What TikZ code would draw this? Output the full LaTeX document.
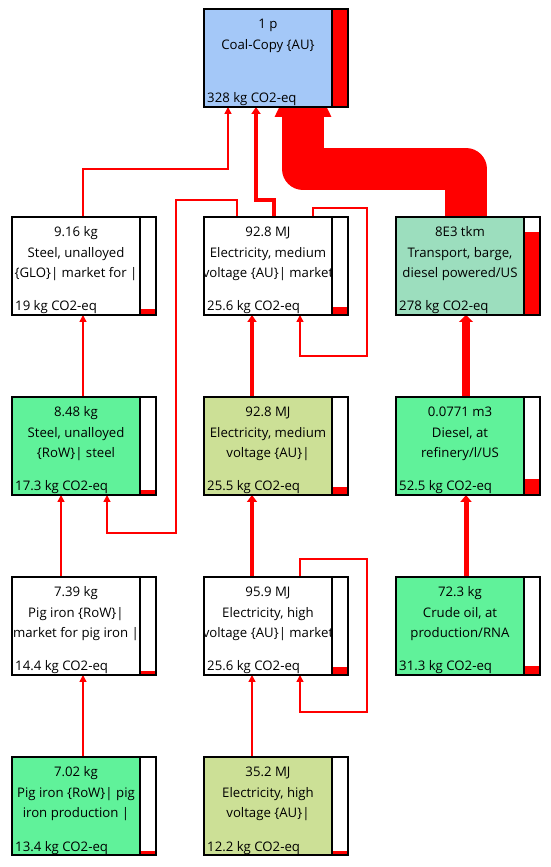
\documentclass[tikz,border=0pt]{standalone}
\usepackage{fontspec}
\setmainfont{Open Sans}
\usetikzlibrary{arrows.meta,positioning,calc,backgrounds}
\definecolor{coalblue}{RGB}{164,200,248}
\definecolor{bargeteal}{RGB}{156,222,190}
\definecolor{mintgreen}{RGB}{96,242,154}
\definecolor{olivegreen}{RGB}{204,224,150}
\tikzset{
    procbox/.style={rectangle, draw, line width=1.6pt, minimum width=144pt, minimum height=98pt, inner sep=0pt, outer sep=0pt},
    bodytext/.style={anchor=north, inner sep=0pt, align=center, font=\fontsize{13.2}{20.4}\selectfont},
    foottext/.style={anchor=base west, inner sep=0pt, font=\fontsize{13.2}{15}\selectfont},
    flow/.style={draw=red, line width=1.5pt, -{Triangle[width=7pt,length=7pt]}},
    mvflow/.style={draw=red, line width=3.5pt, -{Triangle[width=9pt,length=7pt]}},
    hvflow/.style={draw=red, line width=4pt, -{Triangle[width=10pt,length=7pt]}},
    crudeflow/.style={draw=red, line width=5pt, -{Triangle[width=11pt,length=7pt]}},
    dieselflow/.style={draw=red, line width=8pt, -{Triangle[width=14pt,length=7pt]}},
    bigflow/.style={draw=red, line width=42pt, line join=round, -{Triangle[width=52pt,length=60pt]}, shorten >=-50pt},
}
% name, placement, fill, body, footer, bar height
\newcommand{\procnode}[6]{%
    \node[procbox, fill=#3, #2] (#1) {};
    \fill[white] ([xshift=-16pt]#1.north east) rectangle (#1.south east);
    \fill[red] ([xshift=-16pt]#1.south east) rectangle ([yshift=#6pt]#1.south east);
    \draw[line width=2pt] ([xshift=-16pt]#1.north east) rectangle (#1.south east);
    \begin{scope}
        \clip (#1.north west) rectangle ([xshift=-16pt]#1.south east);
        \node[bodytext] at ([xshift=-8pt,yshift=-8.5pt]#1.north) {\rule{0pt}{11pt}#4};
        \node[foottext] at ([xshift=3pt,yshift=4pt]#1.south west) {#5};
    \end{scope}
}

\begin{document}
\begin{tikzpicture}[x=1pt, y=1pt]
    \useasboundingbox (0,0) rectangle (550,867);

    \procnode{coal}{at={(276,809)}}{coalblue}{1 p\\Coal-Copy \{AU\}}{328 kg CO2-eq}{98}
    \procnode{elecmv}{below=110pt of coal}{white}{92.8 MJ\\Electricity, medium\\voltage \{AU\}| market}{25.6 kg CO2-eq}{7.6}
    \procnode{steelglo}{left=48pt of elecmv}{white}{9.16 kg\\Steel, unalloyed\\\{GLO\}| market for |}{19 kg CO2-eq}{5.7}
    \procnode{transport}{right=48pt of elecmv}{bargeteal}{8E3 tkm\\Transport, barge,\\diesel powered/US}{278 kg CO2-eq}{83}

    \procnode{steelrow}{below=82pt of steelglo}{mintgreen}{8.48 kg\\Steel, unalloyed\\\{RoW\}| steel}{17.3 kg CO2-eq}{5.2}
    \procnode{elecmvau}{below=82pt of elecmv}{olivegreen}{92.8 MJ\\Electricity, medium\\voltage \{AU\}|}{25.5 kg CO2-eq}{7.6}
    \procnode{diesel}{below=82pt of transport}{mintgreen}{0.0771 m3\\Diesel, at\\refinery/l/US}{52.5 kg CO2-eq}{15.7}

    \procnode{pigmarket}{below=82pt of steelrow}{white}{7.39 kg\\Pig iron \{RoW\}|\\market for pig iron |}{14.4 kg CO2-eq}{4.3}
    \procnode{elechv}{below=82pt of elecmvau}{white}{95.9 MJ\\Electricity, high\\voltage \{AU\}| market}{25.6 kg CO2-eq}{7.6}
    \procnode{crude}{below=82pt of diesel}{mintgreen}{72.3 kg\\Crude oil, at\\production/RNA}{31.3 kg CO2-eq}{9.4}

    \procnode{pigprod}{below=82pt of pigmarket}{mintgreen}{7.02 kg\\Pig iron \{RoW\}| pig\\iron production |}{13.4 kg CO2-eq}{4}
    \procnode{elechvau}{below=82pt of elechv}{olivegreen}{35.2 MJ\\Electricity, high\\voltage \{AU\}|}{12.2 kg CO2-eq}{3.6}

    \begin{scope}[on background layer]
        \fill[white] (0,0) rectangle (550,867);
        % flows into the top process
        \draw[flow] ([xshift=-1pt]steelglo.north) |- ([xshift=-48pt,yshift=-62pt]coal.south) -- ([xshift=-48pt]coal.south);
        \draw[mvflow] ([xshift=-2pt]elecmv.north) -- ++(0,17pt) -| ([xshift=-20pt]coal.south);
        \draw[bigflow] ([xshift=-2pt]transport.north) |- ([xshift=27pt,yshift=-62pt]coal.south) -- ([xshift=27pt]coal.south);
        % second level
        \draw[flow] ([xshift=-1pt]steelrow.north) -- ([xshift=-1pt]steelglo.south);
        \draw[flow] ([xshift=-39pt]elecmv.north) -- ++(0,17pt) -| ([xshift=92pt,yshift=-38pt]steelrow.south) -| ([xshift=23pt]steelrow.south);
        \draw[flow] ([xshift=37pt]elecmv.north) -- ++(0,9pt) -| ([xshift=91pt,yshift=-41pt]elecmv.south) -| ([xshift=24pt]elecmv.south);
        \draw[mvflow] ([xshift=-24pt]elecmvau.north) -- ([xshift=-24pt]elecmv.south);
        \draw[dieselflow] ([xshift=-2pt]diesel.north) -- ([xshift=-2pt]transport.south);
        % third level
        \draw[flow] ([xshift=-23pt]pigmarket.north) -- ([xshift=-23pt]steelrow.south);
        \draw[hvflow] ([xshift=-24pt]elechv.north) -- ([xshift=-24pt]elecmvau.south);
        \draw[flow] ([xshift=24pt]elechv.north) -- ++(0,18pt) -| ([xshift=91pt,yshift=-37pt]elechv.south) -| ([xshift=24pt]elechv.south);
        \draw[crudeflow] ([xshift=-2pt]crude.north) -- ([xshift=-2pt]diesel.south);
        % bottom level
        \draw[flow] ([xshift=-1pt]pigprod.north) -- ([xshift=-1pt]pigmarket.south);
        \draw[flow] ([xshift=-24pt]elechvau.north) -- ([xshift=-24pt]elechv.south);
    \end{scope}
\end{tikzpicture}
\end{document}
